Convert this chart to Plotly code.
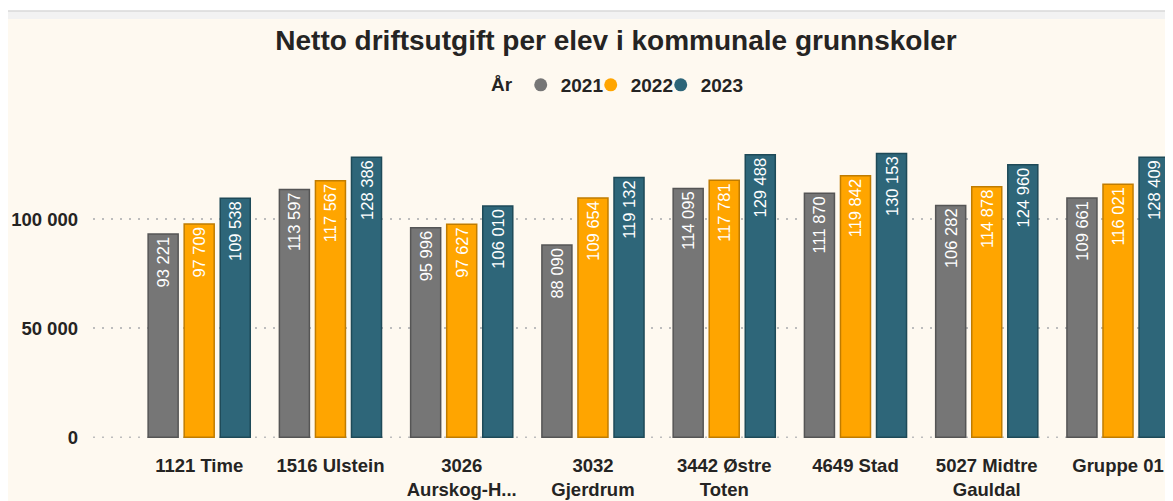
import plotly.graph_objects as go

categories = ["1121 Time", "1516 Ulstein", "3026<br>Aurskog-H...", "3032<br>Gjerdrum",
              "3442 Østre<br>Toten", "4649 Stad", "5027 Midtre<br>Gauldal", "Gruppe 01"]
v2021 = [93221, 113597, 95996, 88090, 114095, 111870, 106282, 109661]
v2022 = [97709, 117567, 97627, 109654, 117781, 119842, 114878, 116021]
v2023 = [109538, 128386, 106010, 119132, 129488, 130153, 124960, 128409]
years = ["2021", "2022", "2023"]
fills = ["#767676", "#FFA500", "#2E6679"]
edges = ["#555555", "#C07C00", "#1E4A58"]
tick_vals = [0, 50000, 100000]

W, H = 1173, 501
OFF = 8  # page body margin
L, R, T, B = 85, 8, 103, 71
pw, ph = W - L - R, H - T - B
def px(x): return (x - OFF - L) / pw
def py(y): return (H - B - (y - OFF)) / ph

FONT = "Liberation Sans"
DARK = "#252423"
GRID = "#BDBDBD"
fig = go.Figure()
for yr, vals, f, e in zip(years, [v2021, v2022, v2023], fills, edges):
    fig.add_trace(go.Bar(
        x=categories, y=vals, name=yr, showlegend=False,
        marker=dict(color=f, line=dict(color=e, width=1.5)),
        texttemplate="%{y:,}", textposition="inside", textangle=-90,
        insidetextanchor="end",
        textfont=dict(family=FONT, size=16.5, color="white"),
        hoverinfo="x+y",
    ))
for yr, f in zip(years, fills):
    fig.add_trace(go.Scatter(
        x=[None], y=[None], mode="markers", name=yr,
        marker=dict(color=f, size=13, symbol="circle"),
    ))
# invisible spacer entry so the last legend label is not clipped
fig.add_trace(go.Scatter(x=[None], y=[None], mode="markers", name=" ",
                         marker=dict(color="rgba(0,0,0,0)", size=1), hoverinfo="skip"))

fig.update_layout(
    width=W, height=H,
    margin=dict(l=L, r=R, t=T, b=B, autoexpand=False),
    paper_bgcolor="white", plot_bgcolor="rgba(0,0,0,0)",
    separators=", ",
    barmode="group", bargap=0.176, bargroupgap=0.167,
    title=dict(text="Netto driftsutgift per elev i kommunale grunnskoler",
               x=px(616), xref="paper", xanchor="center",
               y=1 - (40 - OFF) / H, yref="container", yanchor="middle",
               font=dict(family=FONT, size=28, color=DARK, weight="bold")),
    legend=dict(orientation="h", x=px(489), xanchor="left", y=py(85), yanchor="middle",
                title=dict(text="År", font=dict(family=FONT, size=19, color=DARK, weight="bold")),
                font=dict(family=FONT, size=19, color=DARK, weight="bold"),
                bgcolor="rgba(0,0,0,0)", itemwidth=30, entrywidth=25, tracegroupgap=0),
    xaxis=dict(range=[-0.809, 7.419], showgrid=False, zeroline=False, showline=False,
               ticks="", ticklabelstandoff=14,
               tickfont=dict(family=FONT, size=18.5, color=DARK, weight="bold")),
    yaxis=dict(range=[-400, 149600], tickvals=tick_vals, tickformat=",",
               showgrid=True, gridcolor=GRID, griddash="2px,7px", gridwidth=1.5,
               zeroline=False, showline=False, ticks="", ticklabelstandoff=14,
               tickfont=dict(family=FONT, size=18.5, color=DARK, weight="bold")),
    shapes=[
        dict(type="rect", xref="paper", yref="paper", layer="below",
             x0=px(0), x1=px(1300), y0=py(11), y1=py(600),
             fillcolor="#F2F2F2", line=dict(color="#D9D9D9", width=1.5)),
        dict(type="rect", xref="paper", yref="paper", layer="below",
             x0=px(0), x1=px(1300), y0=py(19), y1=py(600),
             fillcolor="#FEF9F0", line=dict(width=0)),
        dict(type="line", xref="paper", yref="y", layer="below",
             x0=0, x1=1, y0=0, y1=0,
             line=dict(color=GRID, width=1.5, dash="2px,7px")),
    ],
)
fig.write_html("out.html")
